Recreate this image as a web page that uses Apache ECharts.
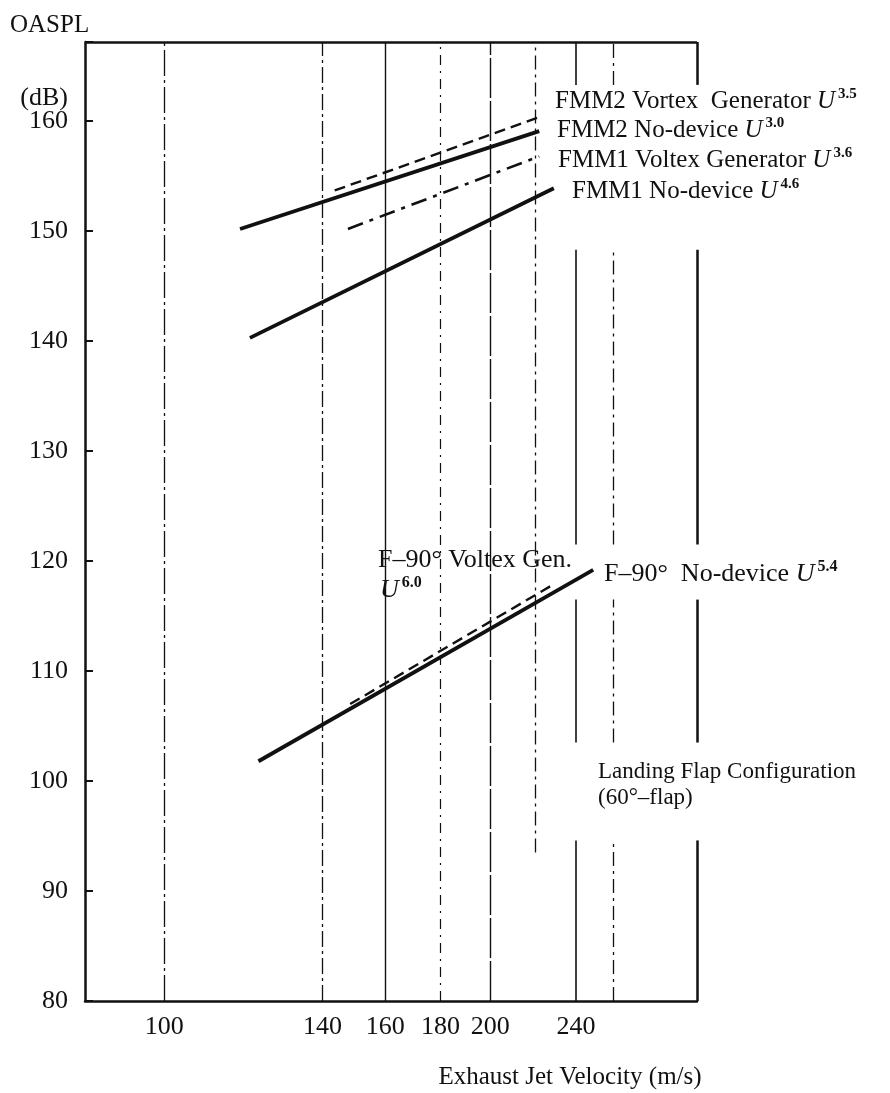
<!DOCTYPE html>
<html>
<head>
<meta charset="utf-8">
<script src="https://cdn.jsdelivr.net/npm/echarts@6/dist/echarts.min.js"></script>
<style>html,body{margin:0;padding:0;background:#fff}#c{width:890px;height:1093px}</style>
</head>
<body>
<div id="c"></div>
<script>
// ---------------- data ----------------
const xTickLabels = [100, 140, 160, 180, 200, 240];
const xRange = [84.5, 310.5];          // exhaust jet velocity (m/s), log scale
const yRange = [80, 167.2];            // OASPL (dB)
const yTickStep = 10;

// straight lines on log(U) – OASPL plane : [velocity, dB] end points
const fmm2VortexV = [143.7, 221];   const fmm2VortexDb = [153.7, 160.3];
const fmm2NoDevV  = [117.5, 222];   const fmm2NoDevDb  = [150.2, 159.1];
const fmm1VoltexV = [147.8, 222];   const fmm1VoltexDb = [150.2, 156.8];
const fmm1NoDevV  = [120, 229];     const fmm1NoDevDb  = [140.3, 153.9];
const f90NoDevV   = [122.2, 249];   const f90NoDevDb   = [101.8, 119.2];
const f90VoltexV  = [148.5, 229];   const f90VoltexDb  = [107.0, 117.9];

// vertical reference lines (velocity) and the dB spans where they are drawn
const gridVelocities = [100, 140, 160, 180, 200, 220, 240, 260];
const gridSpans = {
  100: [[80, 167.2]],
  140: [[80, 167.2]],
  160: [[80, 167.2]],
  180: [[80, 167.2]],
  200: [[80, 167.2]],
  220: [[93.5, 167.2]],
  240: [[80, 94.6], [103.5, 116.5], [121.5, 148.3], [163.3, 167.2]],
  260: [[80, 94.6], [103.5, 116.5], [121.5, 148.3], [163.3, 167.2]]
};
const rightEdgeSpans = [[80, 94.6], [103.5, 116.5], [121.5, 148.3], [163.3, 167.2]];

// ---------------- styles ----------------
const FONT = '"Liberation Serif", "Times New Roman", serif';
const INK = '#111';
const gridStyle = {
  100: {type: [26, 4, 3, 4], width: 1.3},
  140: {type: [16, 4, 3, 4], width: 1.3},
  160: {type: 'solid', width: 1.4},
  180: {type: [10, 6, 2, 6], width: 1.2},
  200: {type: [40, 3], width: 1.4},
  220: {type: [14, 5, 3, 5], width: 1.3},
  240: {type: 'solid', width: 1.6},
  260: {type: [14, 5, 3, 5], width: 1.3}
};

function pairs(v, db) { return v.map((x, i) => [x, db[i]]); }

const gridLineData = [];
gridVelocities.forEach(v => {
  gridSpans[v].forEach(s => {
    gridLineData.push([
      {coord: [v, s[0]], lineStyle: Object.assign({color: INK}, gridStyle[v])},
      {coord: [v, s[1]]}
    ]);
  });
});
rightEdgeSpans.forEach(s => {
  gridLineData.push([
    {coord: [xRange[1], s[0]], lineStyle: {color: INK, width: 2.5, type: 'solid'}},
    {coord: [xRange[1], s[1]]}
  ]);
});
gridLineData.push([
  {coord: [xRange[0], yRange[1]], lineStyle: {color: INK, width: 2.5, type: 'solid'}},
  {coord: [xRange[1], yRange[1]]}
]);

const tickLabelData = xTickLabels.map(v => ({
  xAxis: v,
  lineStyle: {color: 'rgba(0,0,0,0)', width: 1},
  label: {show: true, position: 'start', distance: 13, formatter: String(v),
          color: INK, fontFamily: FONT, fontSize: 26}
}));

function lineSeries(name, v, db, style) {
  return {
    name, type: 'line', data: pairs(v, db), symbol: 'none', silent: true,
    lineStyle: Object.assign({color: INK}, style), z: 5
  };
}

const series = [
  {
    name: 'grid', type: 'line', data: [], silent: true,
    markLine: {silent: true, symbol: ['none', 'none'], animation: false,
               label: {show: false}, data: gridLineData}
  },
  {
    name: 'ticks', type: 'line', data: [], silent: true,
    markLine: {silent: true, symbol: ['none', 'none'], animation: false, data: tickLabelData}
  },
  lineSeries('FMM2 Vortex Generator', fmm2VortexV, fmm2VortexDb, {width: 2.4, type: [11, 6]}),
  lineSeries('FMM2 No-device', fmm2NoDevV, fmm2NoDevDb, {width: 3.8, type: 'solid'}),
  lineSeries('FMM1 Voltex Generator', fmm1VoltexV, fmm1VoltexDb, {width: 2.6, type: [16, 7, 4, 7]}),
  lineSeries('FMM1 No-device', fmm1NoDevV, fmm1NoDevDb, {width: 3.8, type: 'solid'}),
  lineSeries('F-90 No-device', f90NoDevV, f90NoDevDb, {width: 3.8, type: 'solid'}),
  lineSeries('F-90 Voltex Gen.', f90VoltexV, f90VoltexDb, {width: 2.4, type: [11, 6]})
];

function rich(size) {
  const sup = Math.round(size * 0.6);
  return {
    t: {fontFamily: FONT, fontSize: size, fill: INK, lineHeight: size + 4},
    u: {fontFamily: FONT, fontSize: size, fill: INK, fontStyle: 'italic', lineHeight: size + 4},
    s: {fontFamily: FONT, fontSize: sup, fill: INK, fontWeight: 'bold',
        lineHeight: sup, verticalAlign: 'top', padding: [0, 0, 0, 3]}
  };
}
function txt(x, y, text, size, align) {
  return {type: 'text', x, y, silent: true, z: 10,
    style: {text, rich: rich(size), align: align || 'left', verticalAlign: 'middle'}};
}

const graphic = [
  txt(10, 25, '{t|OASPL}', 25),
  txt(68, 98, '{t|(dB)}', 26, 'right'),
  txt(555, 101, '{t|FMM2 Vortex  Generator }{u|U}{s|3.5}', 25),
  txt(557, 130, '{t|FMM2 No-device }{u|U}{s|3.0}', 25),
  txt(558, 160, '{t|FMM1 Voltex Generator }{u|U}{s|3.6}', 25),
  txt(572, 191, '{t|FMM1 No-device }{u|U}{s|4.6}', 25),
  txt(378, 560, '{t|F\u201390\u00b0 Voltex Gen.}', 26),
  txt(380, 590, '{u|U}{s|6.0}', 26),
  txt(604, 574, '{t|F\u201390\u00b0  No-device }{u|U}{s|5.4}', 26),
  txt(598, 772, '{t|Landing Flap Configuration}', 23),
  txt(598, 798, '{t|(60\u00b0\u2013flap)}', 23),
  txt(570, 1077, '{t|Exhaust Jet Velocity (m/s)}', 25, 'center')
];

const option = {
  animation: false,
  backgroundColor: '#fff',
  textStyle: {fontFamily: FONT, color: INK},
  grid: {left: 85, right: 193, top: 42, bottom: 92, containLabel: false},
  xAxis: {
    type: 'log', min: xRange[0], max: xRange[1],
    axisLine: {show: true, onZero: false, lineStyle: {color: INK, width: 2.5}},
    axisTick: {show: false}, axisLabel: {show: false}, splitLine: {show: false}
  },
  yAxis: {
    type: 'value', min: yRange[0], max: yRange[1], interval: yTickStep,
    axisLine: {show: true, lineStyle: {color: INK, width: 2.5}},
    axisTick: {show: true, inside: true, length: 8, lineStyle: {color: INK, width: 2}},
    axisLabel: {color: INK, fontFamily: FONT, fontSize: 26, margin: 17,
                formatter: v => (v <= 160 ? String(v) : '')},
    splitLine: {show: false}
  },
  series,
  graphic
};

const chart = echarts.init(document.getElementById('c'));
chart.setOption(option);
</script>
</body>
</html>
